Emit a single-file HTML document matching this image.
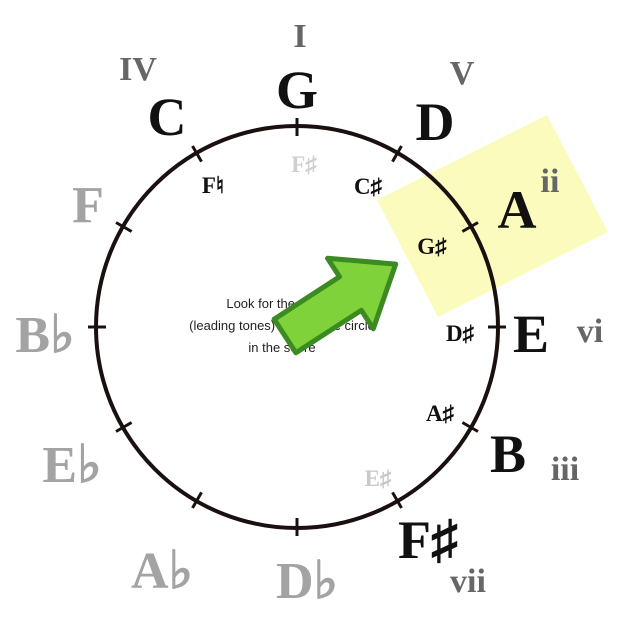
<!DOCTYPE html>
<html><head><meta charset="utf-8"><style>html,body{margin:0;padding:0;background:#fff}svg{display:block}</style></head>
<body>
<svg width="638" height="626" viewBox="0 0 638 626" xmlns="http://www.w3.org/2000/svg">
<polygon points="377,200 547,115 608,232 438,317" fill="#fbfbbd"/>
<circle cx="297" cy="327" r="201" fill="none" stroke="#1a1010" stroke-width="4"/>
<g stroke="#1a1010" stroke-width="3">
<line x1="297" y1="118" x2="297" y2="136"/>
<line x1="297" y1="118" x2="297" y2="136" transform="rotate(30 297 327)"/>
<line x1="297" y1="118" x2="297" y2="136" transform="rotate(60 297 327)"/>
<line x1="297" y1="118" x2="297" y2="136" transform="rotate(90 297 327)"/>
<line x1="297" y1="118" x2="297" y2="136" transform="rotate(120 297 327)"/>
<line x1="297" y1="118" x2="297" y2="136" transform="rotate(150 297 327)"/>
<line x1="297" y1="118" x2="297" y2="136" transform="rotate(180 297 327)"/>
<line x1="297" y1="118" x2="297" y2="136" transform="rotate(210 297 327)"/>
<line x1="297" y1="118" x2="297" y2="136" transform="rotate(240 297 327)"/>
<line x1="297" y1="118" x2="297" y2="136" transform="rotate(270 297 327)"/>
<line x1="297" y1="118" x2="297" y2="136" transform="rotate(300 297 327)"/>
<line x1="297" y1="118" x2="297" y2="136" transform="rotate(330 297 327)"/>
</g>
<g font-family="Liberation Sans, sans-serif" font-size="13" fill="#222" text-anchor="middle">
<text x="282" y="308">Look for the sharps</text>
<text x="282" y="330">(leading tones) around the circle</text>
<text x="282" y="352">in the score</text>
</g>
<g transform="translate(285,336) rotate(-33)">
<polygon points="0,-20 78,-20 78,-42 132,0 78,42 78,20 0,20" fill="#7fd23a" stroke="#3c8a22" stroke-width="5" stroke-linejoin="round"/>
</g>
<g font-family="Liberation Serif, serif" font-weight="bold" text-anchor="middle">
<g font-size="54" fill="#111">
<text x="297" y="108">G</text>
<text x="167" y="135">C</text>
<text x="435" y="140">D</text>
<text x="517" y="228">A</text>
<text x="531" y="352">E</text>
<text x="508" y="472">B</text>
<text x="428" y="558">F♯</text>
</g>
<g font-size="52" fill="#a3a3a3">
<text x="88" y="222">F</text>
<text x="45" y="352">B♭</text>
<text x="72" y="482">E♭</text>
<text x="162" y="588">A♭</text>
<text x="307" y="598">D♭</text>
</g>
<g font-size="34" fill="#666">
<text x="300" y="47">I</text>
<text x="138" y="80">IV</text>
<text x="462" y="84">V</text>
<text x="550" y="192">ii</text>
<text x="590" y="342">vi</text>
<text x="565" y="480">iii</text>
<text x="468" y="592">vii</text>
</g>
<g font-size="23">
<text x="213" y="193" fill="#111">F♮</text>
<text x="304" y="172" fill="#cfcfcf">F♯</text>
<text x="368" y="194" fill="#111">C♯</text>
<text x="432" y="254" fill="#111">G♯</text>
<text x="460" y="341" fill="#111">D♯</text>
<text x="440" y="421" fill="#111">A♯</text>
<text x="378" y="486" fill="#c8c8c8">E♯</text>
</g>
</g>
</svg>
</body></html>
